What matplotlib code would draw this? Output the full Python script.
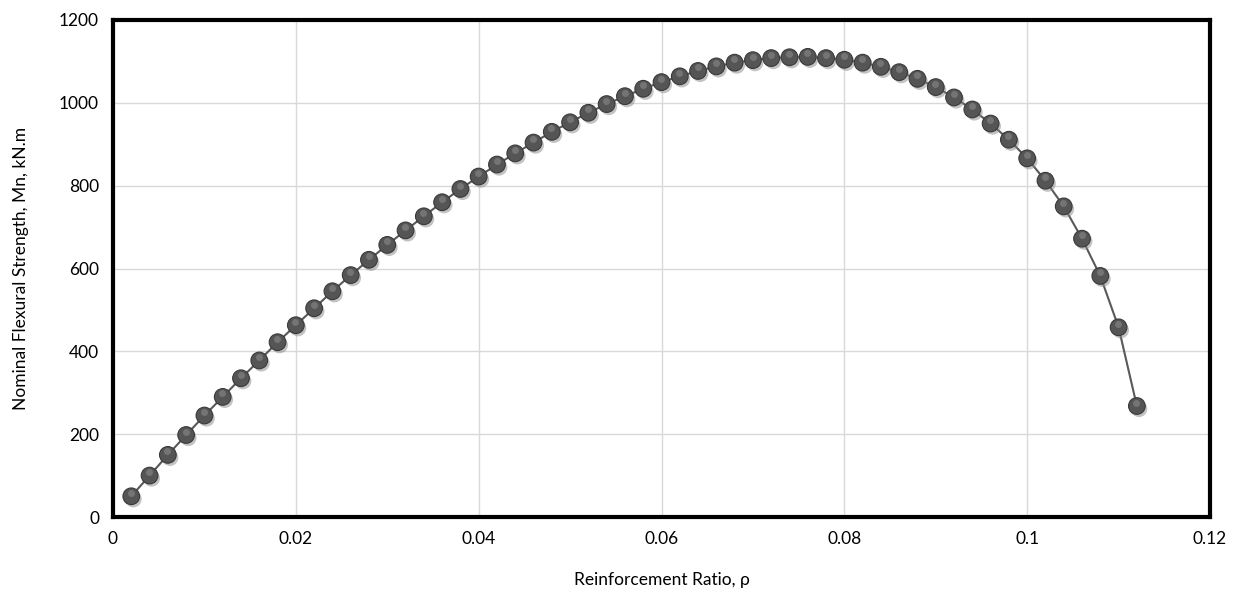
import matplotlib
matplotlib.use("Agg")
from matplotlib import pyplot as plt
from matplotlib import patheffects as pe
from matplotlib import transforms
from matplotlib.ticker import FuncFormatter

plt.rcParams['font.family'] = ['Lato', 'DejaVu Sans']

rho = [0.002, 0.004, 0.006, 0.008, 0.010, 0.012, 0.014, 0.016, 0.018, 0.020,
       0.022, 0.024, 0.026, 0.028, 0.030, 0.032, 0.034, 0.036, 0.038, 0.040,
       0.042, 0.044, 0.046, 0.048, 0.050, 0.052, 0.054, 0.056, 0.058, 0.060,
       0.062, 0.064, 0.066, 0.068, 0.070, 0.072, 0.074, 0.076, 0.078, 0.080,
       0.082, 0.084, 0.086, 0.088, 0.090, 0.092, 0.094, 0.096, 0.098, 0.100,
       0.102, 0.104, 0.106, 0.108, 0.110, 0.112]
mn = [50, 100, 150, 198, 245, 290, 335, 378, 422, 463,
      504, 545, 584, 621, 657, 692, 726, 760, 792, 822,
      851, 878, 904, 930, 953, 976, 997, 1016, 1034, 1050,
      1064, 1077, 1088, 1097, 1103, 1108, 1110, 1111, 1108, 1104,
      1097, 1087, 1074, 1058, 1038, 1013, 984, 950, 911, 866,
      812, 750, 672, 582, 458, 268]

fig = plt.figure(figsize=(12.51, 5.97), dpi=100)
ax = fig.add_axes([113 / 1251, 1 - 517 / 597, (1210 - 113) / 1251, (517 - 20) / 597])

# linha fina cinza entre os pontos
ax.plot(rho, mn, '-', color='#595959', linewidth=1.5, zorder=2)

# marcadores com sombra, imitando as esferas do Excel
ax.plot(rho, mn, 'o', markersize=12, markerfacecolor='#555555',
        markeredgecolor='#3a3a3a', markeredgewidth=0.8, zorder=3,
        path_effects=[pe.SimplePatchShadow(offset=(1.5, -2), shadow_rgbFace='#888888', alpha=0.5),
                      pe.Normal()])
# brilho no topo de cada esfera
shift = transforms.ScaledTranslation(-0.3 / 72, 2.5 / 72, fig.dpi_scale_trans)
ax.plot(rho, mn, 'o', markersize=5, markerfacecolor='#8a8a8a', markeredgewidth=0,
        alpha=0.6, zorder=4, transform=ax.transData + shift)

ax.set_xlim(0, 0.12)
ax.set_ylim(0, 1200)
ax.set_xticks([0, 0.02, 0.04, 0.06, 0.08, 0.1, 0.12])
ax.set_yticks(range(0, 1201, 200))
ax.xaxis.set_major_formatter(FuncFormatter(lambda v, p: '0' if v == 0 else ('%g' % v)))
ax.grid(True, color='#d9d9d9', linewidth=1)
ax.set_axisbelow(True)
ax.tick_params(length=0, labelsize=12.5, colors='#000000', pad=10)

for s in ax.spines.values():
    s.set_linewidth(3)
    s.set_color('black')

ax.set_xlabel("Reinforcement Ratio, ρ", fontsize=12.5, labelpad=18)
ax.set_ylabel("Nominal Flexural Strength, Mn, kN.m", fontsize=12.5, labelpad=22)

fig.savefig("out.png", dpi=100)
